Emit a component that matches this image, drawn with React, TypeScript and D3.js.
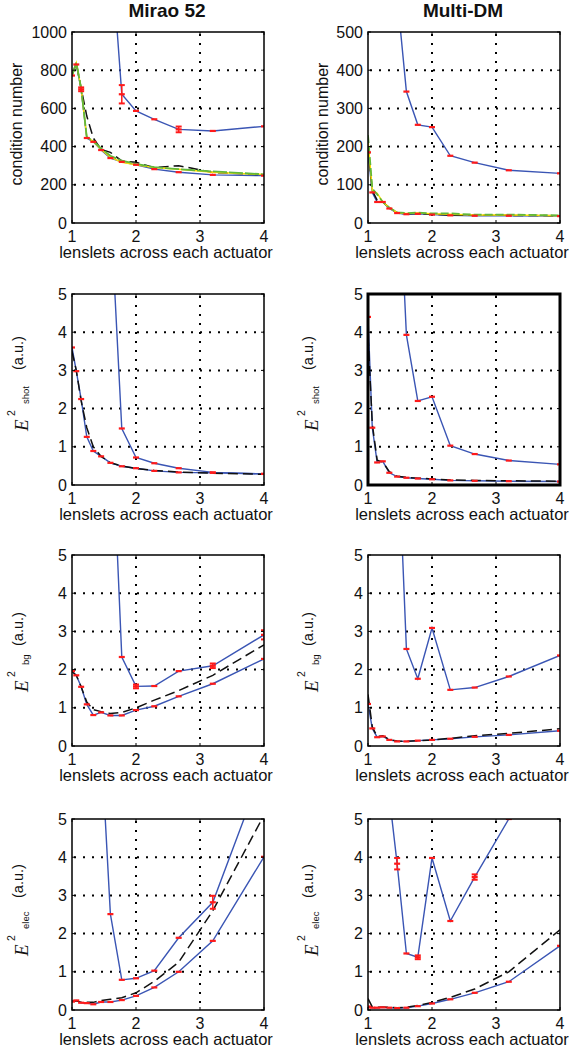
import React from "react";
import * as d3 from "d3";

// x positions: lenslets across each actuator (16/n)
const X = [1, 1.067, 1.143, 1.231, 1.333, 1.455, 1.6, 1.778, 2, 2.286, 2.667, 3.2, 4];
const X_TICKS = [1, 2, 3, 4];
const TITLES = ["Mirao 52", "Multi-DM"];
const COND_TICKS_MIRAO = [0, 200, 400, 600, 800, 1000];
const COND_TICKS_MULTI = [0, 100, 200, 300, 400, 500];
const E_TICKS = [0, 1, 2, 3, 4, 5];
const X_LABEL = "lenslets across each actuator";

// Mirao 52 – condition number
const mirCondUp = [1490, 674, 587, 543, 490, 482, 506]; // from x index 6
const mirCondLo = [772, 830, 700, 445, 425, 382, 340, 320, 305, 282, 266, 252, 248];
const mirCondDash = [775, 837, 705, 560, 445, 385, 370, 325, 318, 290, 300, 265, 252];
const mirCondYel = [770, 838, 705, 450, 428, 385, 345, 318, 305, 290, 282, 266, 254];
const mirCondGrn = [770, 840, 705, 450, 430, 390, 352, 326, 310, 292, 282, 270, 255];

// Multi-DM – condition number
const mulCondUp = [596, 344, 257, 251, 176, 158, 138, 130]; // from x index 5
const mulCondLo = [185, 80, 55, 55, 38, 26, 23, 24, 22, 20, 19, 19, 18];
const mulCondDash = [200, 85, 60, 55, 40, 27, 24, 25, 23, 21, 20, 20, 19];
const mulCondYel = [215, 85, 78, 55, 40, 27, 25, 26, 24, 23, 21, 21, 19];
const mulCondGrn = [230, 90, 75, 55, 40, 28, 26, 27, 25, 25, 22, 22, 20];

// Mirao 52 – shot noise
const mirShotUp = [7.3, 1.48, 0.72, 0.57, 0.44, 0.33, 0.29]; // from 6
const mirShotLo = [3.6, 2.98, 2.25, 1.26, 0.89, 0.75, 0.58, 0.49, 0.44, 0.37, 0.33, 0.32, 0.29];
const mirShotDash = [3.5, 3.0, 2.2, 1.5, 1.0, 0.75, 0.58, 0.5, 0.43, 0.38, 0.34, 0.31, 0.28];

// Multi-DM – shot noise
const mulShotUp = [9.1, 3.93, 2.2, 2.31, 1.03, 0.81, 0.64, 0.54]; // from 5
const mulShotLo = [4.4, 1.5, 0.59, 0.62, 0.32, 0.22, 0.19, 0.17, 0.15, 0.12, 0.11, 0.1, 0.09];
const mulShotDash = [3.9, 1.6, 0.65, 0.6, 0.35, 0.23, 0.2, 0.18, 0.16, 0.13, 0.12, 0.11, 0.1];

// Mirao 52 – background
const mirBgUp = [9.3, 2.33, 1.56, 1.57, 1.96, 2.1, 2.91]; // from 6
const mirBgLo = [1.96, 1.85, 1.55, 1.09, 0.81, 0.88, 0.8, 0.8, 0.94, 1.04, 1.3, 1.63, 2.28];
const mirBgDash = [1.95, 1.85, 1.55, 1.15, 0.95, 0.9, 0.85, 0.88, 1.0, 1.2, 1.45, 1.85, 2.65];

// Multi-DM – background
const mulBgUp = [8.5, 2.54, 1.76, 3.09, 1.47, 1.53, 1.82, 2.37]; // from 5
const mulBgLo = [1.1, 0.46, 0.23, 0.25, 0.16, 0.12, 0.12, 0.14, 0.16, 0.19, 0.24, 0.29, 0.4];
const mulBgDash = [1.35, 0.5, 0.25, 0.27, 0.17, 0.13, 0.12, 0.14, 0.16, 0.2, 0.27, 0.33, 0.45];

// Mirao 52 – electronic
const mirElecUp = [7.0, 2.51, 0.79, 0.83, 1.03, 1.89, 2.82, 6.4]; // from 5
const mirElecLo = [0.22, 0.25, 0.19, 0.18, 0.15, 0.21, 0.21, 0.26, 0.37, 0.59, 1.0, 1.81, 4.01];
const mirElecDash = [0.22, 0.24, 0.2, 0.2, 0.2, 0.25, 0.28, 0.32, 0.45, 0.75, 1.25, 2.6, 5.1];

// Multi-DM – electronic
const mulElecUp = [5.6, 3.83, 1.48, 1.38, 3.98, 2.33, 3.48, 5.0, 7.3]; // from 4
const mulElecLo = [0.09, 0.06, 0.06, 0.07, 0.06, 0.05, 0.06, 0.1, 0.17, 0.28, 0.45, 0.74, 1.68];
const mulElecDash = [0.3, 0.08, 0.07, 0.07, 0.07, 0.06, 0.07, 0.12, 0.2, 0.33, 0.55, 1.0, 2.1];

type Err = { s: "up" | "lo"; i: number; e: number };
interface PanelDef {
  col: number;
  row: number;
  yMax: number;
  yTicks: number[];
  upStart: number;
  up: number[];
  lo: number[];
  dash: number[];
  yel?: number[];
  grn?: number[];
  errs: Err[];
  label: string;
  aStart?: number;
  thick?: boolean;
}

const PANELS: PanelDef[] = [
  { col: 0, row: 0, yMax: 1000, yTicks: COND_TICKS_MIRAO, upStart: 6, up: mirCondUp, lo: mirCondLo, dash: mirCondDash, yel: mirCondYel, grn: mirCondGrn,
    errs: [{ s: "up", i: 7, e: 48 }, { s: "up", i: 10, e: 15 }, { s: "lo", i: 2, e: 10 }], label: "cond" },
  { col: 1, row: 0, yMax: 500, yTicks: COND_TICKS_MULTI, upStart: 5, up: mulCondUp, lo: mulCondLo, dash: mulCondDash, yel: mulCondYel, grn: mulCondGrn,
    errs: [], label: "cond" },
  { col: 0, row: 1, yMax: 5, yTicks: E_TICKS, upStart: 6, up: mirShotUp, lo: mirShotLo, dash: mirShotDash, errs: [], label: "shot", aStart: 61 },
  { col: 1, row: 1, yMax: 5, yTicks: E_TICKS, upStart: 5, up: mulShotUp, lo: mulShotLo, dash: mulShotDash, errs: [], label: "shot", aStart: 61, thick: true },
  { col: 0, row: 2, yMax: 5, yTicks: E_TICKS, upStart: 6, up: mirBgUp, lo: mirBgLo, dash: mirBgDash,
    errs: [{ s: "up", i: 8, e: 0.05 }, { s: "up", i: 11, e: 0.06 }, { s: "up", i: 12, e: 0.12 }], label: "bg", aStart: 46 },
  { col: 1, row: 2, yMax: 5, yTicks: E_TICKS, upStart: 5, up: mulBgUp, lo: mulBgLo, dash: mulBgDash, errs: [], label: "bg", aStart: 46 },
  { col: 0, row: 3, yMax: 5, yTicks: E_TICKS, upStart: 5, up: mirElecUp, lo: mirElecLo, dash: mirElecDash,
    errs: [{ s: "up", i: 11, e: 0.17 }], label: "elec", aStart: 58 },
  { col: 1, row: 3, yMax: 5, yTicks: E_TICKS, upStart: 4, up: mulElecUp, lo: mulElecLo, dash: mulElecDash,
    errs: [{ s: "up", i: 5, e: 0.15 }, { s: "up", i: 7, e: 0.05 }, { s: "up", i: 10, e: 0.07 }], label: "elec", aStart: 58 },
];

const ROW_TOP = [32, 294, 555, 819];
const COL_LEFT = [72, 368];
const PW = 192;
const PH = 191;
const FONT = "'Liberation Sans', Arial, Helvetica, sans-serif";
const BLUE = "#3a55b4";
const RED = "#ff1a1a";

function Panel({ p }: { p: PanelDef }) {
  const x0 = COL_LEFT[p.col];
  const y0 = ROW_TOP[p.row];
  const xs = d3.scaleLinear().domain([1, 4]).range([x0, x0 + PW]);
  const ys = d3.scaleLinear().domain([0, p.yMax]).range([y0 + PH, y0]);
  const line = d3
    .line<[number, number]>()
    .x((d) => xs(d[0]))
    .y((d) => ys(d[1]));
  const pts = (vals: number[], start = 0) => vals.map((v, k) => [X[start + k], v] as [number, number]);
  const upPts = pts(p.up, p.upStart);
  const loPts = pts(p.lo);
  const clipId = `clip-${p.col}-${p.row}`;
  const gridStyle = { stroke: "#000", strokeWidth: 2, strokeDasharray: "2,7" };

  const markers = [...upPts, ...loPts].filter((d) => d[1] <= p.yMax * 1.01);

  const errLines = p.errs.map((er, k) => {
    const arr = er.s === "up" ? p.up : p.lo;
    const start = er.s === "up" ? p.upStart : 0;
    const v = arr[er.i - start];
    const cx = xs(X[er.i]);
    const yA = ys(v - er.e);
    const yB = ys(v + er.e);
    return (
      <g key={k} stroke={RED} strokeWidth={1.5}>
        <line x1={cx} x2={cx} y1={yA} y2={yB} />
        <line x1={cx - 3} x2={cx + 3} y1={yA} y2={yA} strokeWidth={2} />
        <line x1={cx - 3} x2={cx + 3} y1={yB} y2={yB} strokeWidth={2} />
      </g>
    );
  });

  const labelX = p.col === 0 ? 0 : 290;
  let yLabel: React.ReactNode;
  if (p.label === "cond") {
    const bx = p.col === 0 ? 22 : 328;
    yLabel = (
      <text transform={`translate(${bx},${y0 + 92}) rotate(-90)`} textAnchor="middle" fontSize={16} fontFamily={FONT} fill="#111">
        condition number
      </text>
    );
  } else {
    yLabel = (
      <g transform={`translate(${28 + labelX},${y0 + 137}) rotate(-90)`} fill="#111">
        <text x={0} y={0} fontSize={19} fontFamily="'Liberation Serif', 'Times New Roman', serif" fontStyle="italic">
          E
        </text>
        <text x={15} y={-13} fontSize={10.5} fontFamily={FONT}>
          2
        </text>
        <text x={27} y={1} fontSize={9.5} fontFamily={FONT}>
          {p.label}
        </text>
        <text x={p.aStart ?? 60} y={-5} fontSize={14.5} fontFamily={FONT}>
          (a.u.)
        </text>
      </g>
    );
  }

  return (
    <g>
      <defs>
        <clipPath id={clipId}>
          <rect x={x0} y={y0} width={PW} height={PH} />
        </clipPath>
      </defs>
      <rect x={x0} y={y0} width={PW} height={PH} fill="#fff" />
      {/* grid */}
      {X_TICKS.filter((t) => t > 1 && t < 4).map((t) => (
        <line key={`gx${t}`} x1={xs(t)} x2={xs(t)} y1={y0 + 2} y2={y0 + PH} {...gridStyle} />
      ))}
      {p.yTicks.filter((t) => t > 0 && t < p.yMax).map((t) => (
        <line key={`gy${t}`} x1={x0 + 2} x2={x0 + PW} y1={ys(t)} y2={ys(t)} {...gridStyle} />
      ))}
      <g clipPath={`url(#${clipId})`} fill="none">
        <path d={line(loPts) || ""} stroke={BLUE} strokeWidth={1.4} />
        <path d={line(upPts) || ""} stroke={BLUE} strokeWidth={1.4} />
        <path d={line(pts(p.dash)) || ""} stroke="#111" strokeWidth={1.5} strokeDasharray="10,5" />
        {p.yel && <path d={line(pts(p.yel)) || ""} stroke="#ffe000" strokeWidth={1.5} />}
        {p.grn && <path d={line(pts(p.grn)) || ""} stroke="#62b83a" strokeWidth={1.8} strokeDasharray={p.col === 1 ? "8,3" : "14,2"} />}
        {markers.map((d, k) => (
          <rect key={k} x={xs(d[0]) - 3} y={ys(d[1]) - 1.1} width={6} height={2.2} fill={RED} />
        ))}
        {errLines}
      </g>
      {/* ticks */}
      {X_TICKS.map((t) => (
        <g key={`tx${t}`}>
          <line x1={xs(t)} x2={xs(t)} y1={y0 + PH} y2={y0 + PH - 3} stroke="#000" />
          <line x1={xs(t)} x2={xs(t)} y1={y0} y2={y0 + 3} stroke="#000" />
          <text x={xs(t)} y={y0 + PH + 19} textAnchor="middle" fontSize={16} fontFamily={FONT} fill="#111">
            {t}
          </text>
        </g>
      ))}
      {p.yTicks.map((t) => (
        <g key={`ty${t}`}>
          <line x1={x0} x2={x0 + 3} y1={ys(t)} y2={ys(t)} stroke="#000" />
          <line x1={x0 + PW} x2={x0 + PW - 3} y1={ys(t)} y2={ys(t)} stroke="#000" />
          <text x={x0 - 5} y={ys(t) + 5.5} textAnchor="end" fontSize={16} fontFamily={FONT} fill="#111">
            {t}
          </text>
        </g>
      ))}
      <rect x={x0} y={y0} width={PW} height={PH} fill="none" stroke="#000" strokeWidth={p.thick ? 3 : 1.5} />
      <text x={x0 + PW / 2 - 2} y={y0 + PH + 35} textAnchor="middle" fontSize={16.5} fontFamily={FONT} fill="#111">
        {X_LABEL}
      </text>
      {yLabel}
    </g>
  );
}

export default function App() {
  return (
    <svg
      width={575}
      height={1050}
      viewBox="0 0 575 1050"
      style={{ position: "absolute", left: 0, top: 0, background: "#fff" }}
    >
      <rect width={575} height={1050} fill="#fff" />
      {TITLES.map((t, i) => (
        <text key={t} x={COL_LEFT[i] + PW / 2 - 1} y={17} textAnchor="middle" fontSize={19} fontWeight="bold" fontFamily={FONT} fill="#111">
          {t}
        </text>
      ))}
      {PANELS.map((p) => (
        <Panel key={`${p.col}-${p.row}`} p={p} />
      ))}
    </svg>
  );
}
